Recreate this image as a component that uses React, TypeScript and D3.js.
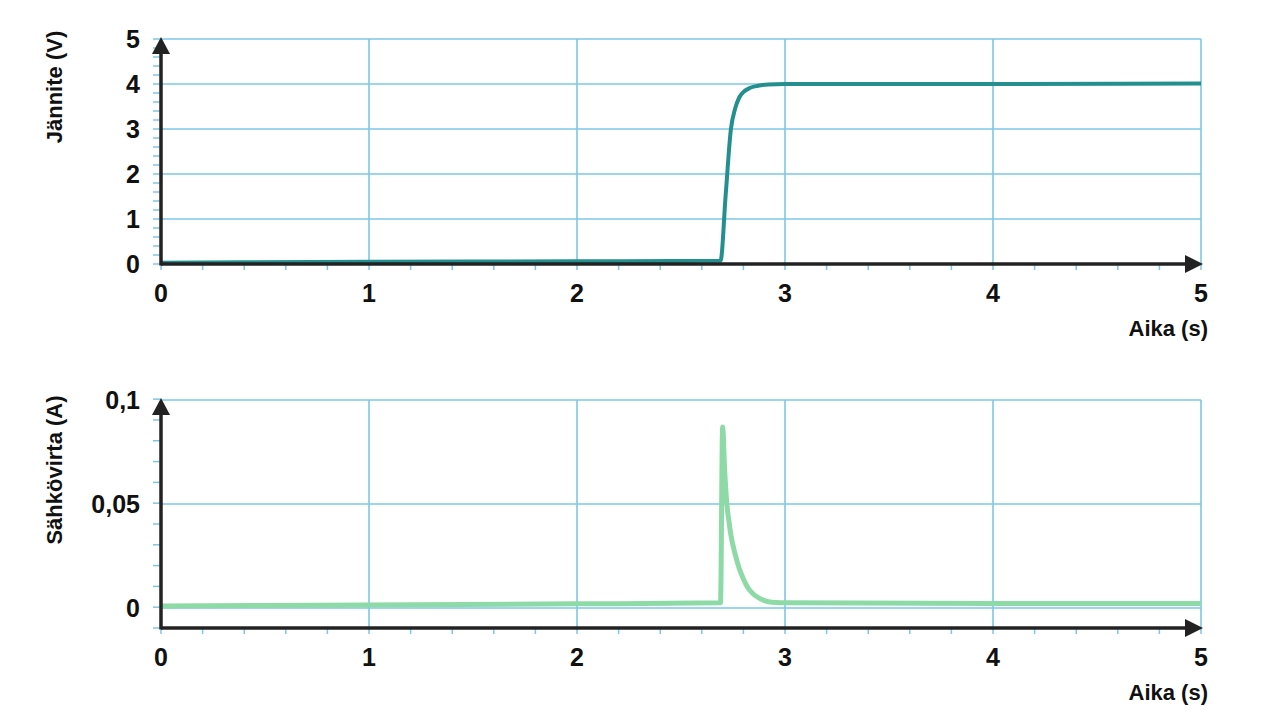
import * as d3 from "d3";

// Jännite (V) vs aika (s)
const timeV = [0, 1, 2, 2.69, 2.715, 2.74, 2.76, 2.78, 2.8, 2.83, 2.87, 2.92, 3.0, 4, 5];
const voltage = [0.03, 0.05, 0.06, 0.07, 1.55, 3.0, 3.45, 3.7, 3.82, 3.91, 3.96, 3.99, 4.0, 4.0, 4.01];

// Sähkövirta (A) vs aika (s)
const timeI = [0, 1, 2, 2.69, 2.7, 2.71, 2.72, 2.73, 2.74, 2.76, 2.78, 2.8, 2.82, 2.85, 2.88, 2.92, 2.96, 3.0, 4, 5];
const current = [0.001, 0.0015, 0.002, 0.0025, 0.087, 0.066, 0.0505, 0.042, 0.035, 0.026, 0.019, 0.014, 0.01, 0.0065, 0.0045, 0.003, 0.0026, 0.0025, 0.0022, 0.0022];

const xTicks = [0, 1, 2, 3, 4, 5];
const vTicks = [0, 1, 2, 3, 4, 5];
const iTicks = [0, 0.05, 0.1];
const iTickLabels = ["0", "0,05", "0,1"];

const GRID = "#7cc7e6";
const AXIS = "#222";
const FONT = "'Liberation Sans', Arial, sans-serif";

function Panel({
  top, bottom, yDomain, yMajor, yLabels, yMinorStep, yTitle, titleY, xs, ys, color, width
}: {
  top: number; bottom: number; yDomain: [number, number]; yMajor: number[]; yLabels: string[];
  yMinorStep: number; yTitle: string; titleY: number; xs: number[]; ys: number[]; color: string; width: number;
}) {
  const left = 161, right = 1201;
  const x = d3.scaleLinear([0, 5], [left, right]);
  const y = d3.scaleLinear(yDomain, [bottom, top]);
  const line = d3.line<number>((_d, i) => x(xs[i]), (d) => y(d)).curve(d3.curveMonotoneX);
  const axisY = y(yDomain[0]);
  const yMinor = d3.range(yDomain[0], yDomain[1] + yMinorStep / 2, yMinorStep);
  const xMinor = d3.range(0, 5.01, 0.2);
  return (
    <g fontFamily={FONT} fontWeight="bold">
      {yMajor.map((t) => (
        <line key={"h" + t} x1={left} x2={right} y1={y(t)} y2={y(t)} stroke={GRID} strokeWidth={1.6} />
      ))}
      {xTicks.slice(1).map((t) => (
        <line key={"v" + t} x1={x(t)} x2={x(t)} y1={y(yDomain[1])} y2={axisY + 2} stroke={GRID} strokeWidth={1.6} />
      ))}
      {yMinor.map((t, i) => (
        <line key={"ym" + i} x1={left - 8} x2={left} y1={y(t)} y2={y(t)} stroke={GRID} strokeWidth={1.5} />
      ))}
      {xMinor.map((t, i) => (
        <line key={"xm" + i} x1={x(t)} x2={x(t)} y1={axisY} y2={axisY + 6} stroke={GRID} strokeWidth={1.5} />
      ))}
      <path d={line(ys) || ""} fill="none" stroke={color} strokeWidth={width} strokeLinejoin="round" />
      <line x1={left} x2={right - 14} y1={axisY} y2={axisY} stroke={AXIS} strokeWidth={3.5} />
      <line x1={left} x2={left} y1={axisY + 1.5} y2={y(yDomain[1]) + 12} stroke={AXIS} strokeWidth={3.5} />
      <path d={`M${left},${y(yDomain[1]) - 2}L${left - 9},${y(yDomain[1]) + 15}L${left + 9},${y(yDomain[1]) + 15}Z`} fill={AXIS} />
      <path d={`M${right + 2},${axisY}L${right - 16},${axisY - 9}L${right - 16},${axisY + 9}Z`} fill={AXIS} />
      {yMajor.map((t, i) => (
        <text key={"yl" + t} x={140} y={y(t)} dy="0.35em" textAnchor="end" fontSize={25} fill="#111">{yLabels[i]}</text>
      ))}
      {xTicks.map((t) => (
        <text key={"xl" + t} x={x(t)} y={axisY + 29} dy="0.35em" textAnchor="middle" fontSize={25} fill="#111">{t}</text>
      ))}
      <text x={1208} y={axisY + 72} textAnchor="end" fontSize={22} fill="#111">Aika (s)</text>
      <text transform={`translate(54,${titleY}) rotate(-90)`} textAnchor="middle" dy="0.35em" fontSize={22} fill="#111">{yTitle}</text>
    </g>
  );
}

export default function App() {
  return (
    <svg width={1280} height={726} style={{ position: "absolute", left: 0, top: 0, background: "#fff" }}>
      <rect width={1280} height={726} fill="#fff" />
      <Panel top={39} bottom={264} yDomain={[0, 5]} yMajor={vTicks} yLabels={vTicks.map(String)}
        yMinorStep={0.2} yTitle="Jännite (V)" titleY={87} xs={timeV} ys={voltage} color="#23908f" width={4} />
      <Panel top={400} bottom={628} yDomain={[-0.0096, 0.1]} yMajor={iTicks} yLabels={iTickLabels}
        yMinorStep={0.01} yTitle="Sähkövirta (A)" titleY={470} xs={timeI} ys={current} color="#8edaa6" width={5} />
    </svg>
  );
}
